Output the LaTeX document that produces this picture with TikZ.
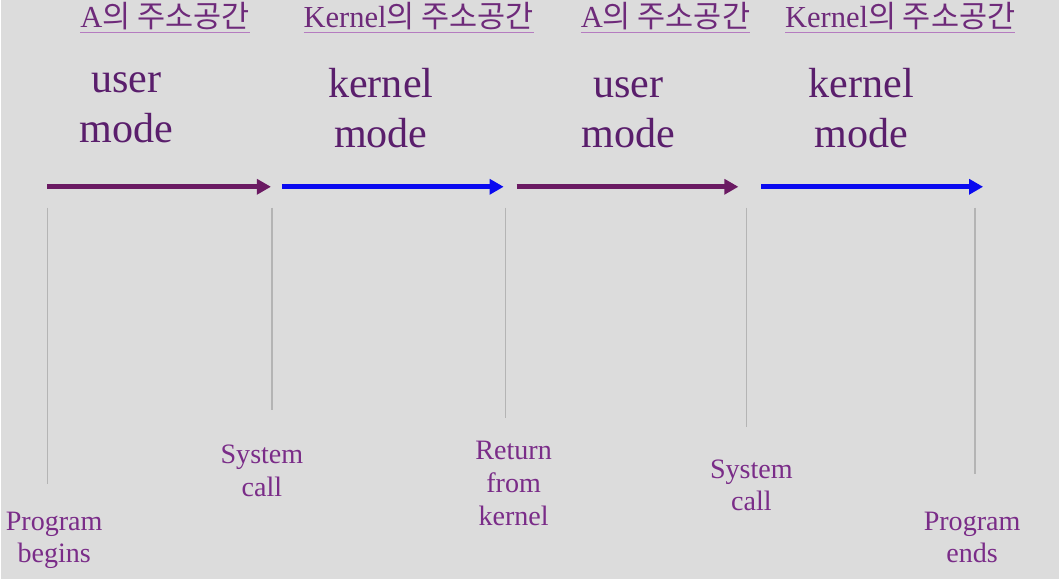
\documentclass[tikz,border=0pt]{standalone}
\usepackage{fontspec}
\setmainfont{Liberation Serif}
\newfontfamily\krfont{Noto Sans CJK KR}
\usetikzlibrary{positioning, arrows.meta}
\definecolor{bgcolor}{HTML}{DCDCDC}
\definecolor{ucolor}{HTML}{6B1A63}
\definecolor{kcolor}{HTML}{0A0AF0}
\definecolor{tcolor}{HTML}{5A1E6C}
\definecolor{hcolor}{HTML}{6E2A7A}
\definecolor{ulcolor}{HTML}{B57CC0}
\definecolor{lcolor}{HTML}{7A2C88}
\definecolor{gcolor}{HTML}{B4B4B4}
\newcommand{\addrsp}[1]{\textcolor{ulcolor}{\underline{\textcolor{hcolor}{#1}}}}

\begin{document}
\begin{tikzpicture}[x=0.02cm, y=-0.02cm,
    head/.style={anchor=base, inner sep=0pt, font=\fontsize{17.4}{20}\selectfont},
    mode/.style={text=tcolor, align=center, font=\fontsize{24}{28.5}\selectfont},
    evt/.style={text=lcolor, align=center, font=\fontsize{16}{18.7}\selectfont},
    arr/.style={-{Triangle[length=8pt, width=8.5pt]}, line width=2.6pt},
    tick/.style={gcolor, line width=0.8pt},
  ]
    \fill[bgcolor] (0,0) rectangle (1059,580);

    % address space headings
    \node[head] (hdrA1) at (164,28) {\addrsp{A{\krfont 의 주소공간}}};
    \node[head] (hdrK1) at (418,28) {\addrsp{Kernel{\krfont 의 주소공간}}};
    \node[head] (hdrA2) at (665,28) {\addrsp{A{\krfont 의 주소공간}}};
    \node[head] (hdrK2) at (900,28) {\addrsp{Kernel{\krfont 의 주소공간}}};

    % modes
    \node[mode] (modeU1) at (125,108) {user\\mode};
    \node[mode] (modeK1) at (380,108) {kernel\\mode};
    \node[mode] (modeU2) at (628,113) {user\\mode};
    \node[mode] (modeK2) at (861,108) {kernel\\mode};

    % time line
    \coordinate (s1) at (46,187);  \coordinate (e1) at (270,187);
    \coordinate (s2) at (281,187); \coordinate (e2) at (503,187);
    \coordinate (s3) at (516,187); \coordinate (e3) at (738,187);
    \coordinate (s4) at (761,187); \coordinate (e4) at (983,187);
    \draw[arr, ucolor] (s1) -- (e1);
    \draw[arr, kcolor] (s2) -- (e2);
    \draw[arr, ucolor] (s3) -- (e3);
    \draw[arr, kcolor] (s4) -- (e4);

    % event markers
    \coordinate (t1) at (46,208);  \coordinate (b1) at (46,485);
    \coordinate (t2) at (271,208); \coordinate (b2) at (271,410);
    \coordinate (t3) at (505,208); \coordinate (b3) at (505,418);
    \coordinate (t4) at (746,208); \coordinate (b4) at (746,428);
    \coordinate (t5) at (975,208); \coordinate (b5) at (975,475);
    \draw[tick] (t1) -- (b1);
    \draw[tick] (t2) -- (b2);
    \draw[tick] (t3) -- (b3);
    \draw[tick] (t4) -- (b4);
    \draw[tick] (t5) -- (b5);

    \node[evt] (evBegin) at (53,541) {Program\\begins};
    \node[evt] (evCall1) at (261,471) {System\\call};
    \node[evt] (evReturn) at (513,484) {Return\\from\\kernel};
    \node[evt] (evCall2) at (751,486) {System\\call};
    \node[evt] (evEnd) at (972,538) {Program\\ends};
  \end{tikzpicture}
\end{document}
